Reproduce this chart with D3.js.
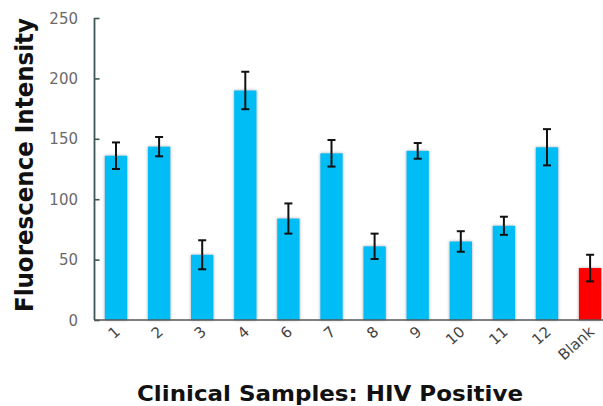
<!DOCTYPE html>
<html>
<head>
<meta charset="utf-8">
<script src="https://cdn.jsdelivr.net/npm/d3@7"></script>
<style>
  html, body { margin: 0; padding: 0; background: #fff; }
  svg { display: block; }
</style>
</head>
<body>
<div id="chart"></div>
<script>
// Fluorescence readings for HIV-positive clinical samples plus a blank control
const categories = ["1", "2", "3", "4", "6", "7", "8", "9", "10", "11", "12", "Blank"];
const values = [136, 143.5, 54, 190, 84, 138, 61, 140, 65, 78, 143, 43];
const errors = [11, 8, 12, 15.5, 12.5, 11, 10.5, 6.5, 8.5, 7.5, 15, 11];
const yTicks = [0, 50, 100, 150, 200, 250];

const width = 603, height = 406;
const svg = d3.select("#chart").append("svg")
  .attr("width", width).attr("height", height);

const defs = svg.append("defs");
const f = defs.append("filter").attr("id", "barShadow")
  .attr("x", "-30%").attr("y", "-10%").attr("width", "160%").attr("height", "120%");
f.append("feDropShadow").attr("dx", 0).attr("dy", 0)
  .attr("stdDeviation", 1.4).attr("flood-color", "#555").attr("flood-opacity", 0.55);

const y = d3.scaleLinear().domain([0, 250]).range([320, 18]);
const x = d3.scaleBand().domain(categories)
  .range([94.45, 94.45 + 12 * 43.1])
  .paddingInner(0.48).paddingOuter(0.24);

const rows = categories.map((c, i) => ({ c, v: values[i], e: errors[i] }));

// Bars
svg.append("g").selectAll("rect").data(rows).join("rect")
  .attr("x", d => x(d.c))
  .attr("y", d => y(d.v))
  .attr("width", x.bandwidth())
  .attr("height", d => y(0) - y(d.v))
  .attr("fill", d => d.c === "Blank" ? "#ff0000" : "#00bdf6")
  .attr("filter", "url(#barShadow)");

// Error bars
const eb = svg.append("g").attr("stroke", "#111").attr("stroke-width", 2);
rows.forEach(d => {
  const cx = x(d.c) + x.bandwidth() / 2;
  eb.append("line").attr("x1", cx).attr("x2", cx)
    .attr("y1", y(d.v + d.e)).attr("y2", y(d.v - d.e));
  [d.v + d.e, d.v - d.e].forEach(v => {
    eb.append("line").attr("x1", cx - 4).attr("x2", cx + 4)
      .attr("y1", y(v)).attr("y2", y(v));
  });
});

// Y axis with inward ticks
const yAxis = svg.append("g").attr("transform", "translate(94.5,0)")
  .call(d3.axisRight(y).tickValues(yTicks).tickSize(5).tickFormat(""));
yAxis.select(".domain").attr("stroke", "#3e5656").attr("stroke-width", 1.8)
  .attr("d", `M0,${y(250)}V${y(0)}`);
yAxis.selectAll(".tick line").attr("stroke", "#3e5656").attr("stroke-width", 1.6);

svg.append("g").selectAll("text").data(yTicks).join("text")
  .attr("x", 78).attr("y", d => y(d) + 5.5)
  .attr("text-anchor", "end")
  .attr("font-family", "DejaVu Sans, sans-serif").attr("font-size", 15)
  .attr("fill", "#6a6a6a")
  .text(d => d);

// X axis baseline
svg.append("line").attr("x1", 94).attr("x2", 603)
  .attr("y1", y(0)).attr("y2", y(0))
  .attr("stroke", "#555").attr("stroke-width", 1.6);

// Category labels, rotated
svg.append("g").selectAll("text").data(categories).join("text")
  .attr("transform", d => `translate(${x(d) + x.bandwidth() / 2 + 5},${333}) rotate(-42)`)
  .attr("text-anchor", "end")
  .attr("font-family", "DejaVu Sans, sans-serif").attr("font-size", 15)
  .attr("fill", "#444")
  .text(d => d);

// Axis titles
svg.append("text")
  .attr("transform", "translate(33,165) rotate(-90)")
  .attr("text-anchor", "middle")
  .attr("font-family", "DejaVu Sans, sans-serif").attr("font-weight", "bold")
  .attr("font-size", 24).attr("fill", "#111")
  .attr("textLength", 294).attr("lengthAdjust", "spacingAndGlyphs")
  .text("Fluorescence Intensity");

svg.append("text")
  .attr("x", 330).attr("y", 401)
  .attr("text-anchor", "middle")
  .attr("font-family", "DejaVu Sans, sans-serif").attr("font-weight", "bold")
  .attr("font-size", 22).attr("fill", "#111")
  .attr("textLength", 386).attr("lengthAdjust", "spacingAndGlyphs")
  .text("Clinical Samples: HIV Positive");
</script>
</body>
</html>
